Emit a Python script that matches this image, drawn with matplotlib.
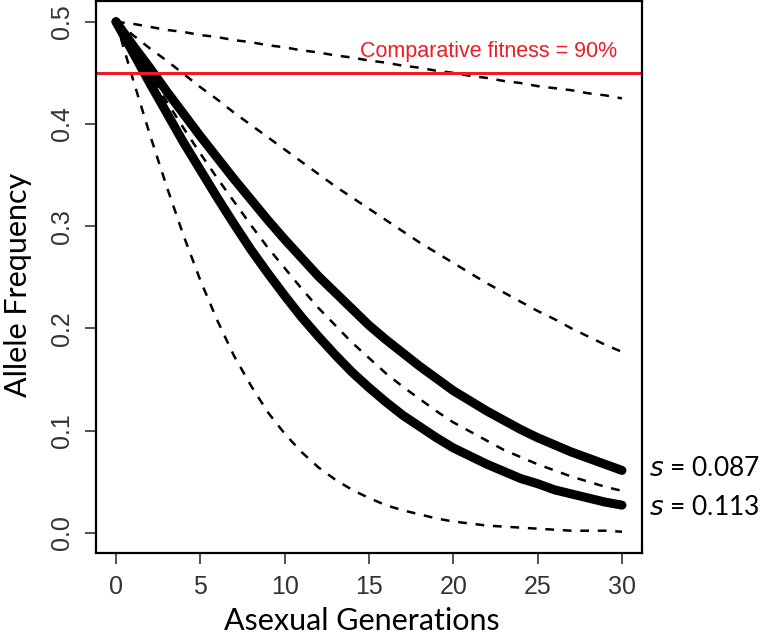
import matplotlib
matplotlib.use("Agg")
import matplotlib.pyplot as plt

# generations 0..30
gens = list(range(31))

# dashed reference curves
dash_a = [0.500, 0.498, 0.495, 0.492, 0.490, 0.487, 0.485, 0.482, 0.480, 0.477,
          0.475, 0.472, 0.470, 0.467, 0.465, 0.462, 0.460, 0.457, 0.455, 0.452,
          0.450, 0.447, 0.445, 0.442, 0.440, 0.437, 0.435, 0.433, 0.430, 0.428, 0.425]
dash_b = [0.500, 0.487, 0.474, 0.462, 0.449, 0.436, 0.424, 0.411, 0.399, 0.387,
          0.375, 0.363, 0.351, 0.339, 0.328, 0.317, 0.306, 0.295, 0.284, 0.274,
          0.264, 0.254, 0.244, 0.235, 0.226, 0.217, 0.209, 0.200, 0.192, 0.184, 0.177]
dash_c = [0.500, 0.474, 0.448, 0.422, 0.396, 0.371, 0.347, 0.324, 0.301, 0.279,
          0.259, 0.239, 0.220, 0.203, 0.186, 0.171, 0.156, 0.143, 0.131, 0.119,
          0.108, 0.099, 0.090, 0.081, 0.074, 0.067, 0.061, 0.055, 0.050, 0.045, 0.041]
dash_d = [0.500, 0.444, 0.390, 0.339, 0.291, 0.247, 0.208, 0.173, 0.144, 0.118,
          0.097, 0.079, 0.064, 0.052, 0.042, 0.034, 0.027, 0.022, 0.018, 0.014,
          0.011, 0.009, 0.007, 0.006, 0.005, 0.004, 0.003, 0.002, 0.002, 0.002, 0.001]

# fitted curves (thick)
fit_087 = [0.500, 0.477, 0.455, 0.432, 0.410, 0.388, 0.367, 0.346, 0.326, 0.306,
           0.287, 0.269, 0.251, 0.235, 0.219, 0.203, 0.189, 0.176, 0.163, 0.151,
           0.139, 0.129, 0.119, 0.110, 0.101, 0.093, 0.086, 0.079, 0.073, 0.067, 0.061]
fit_113 = [0.500, 0.470, 0.440, 0.411, 0.382, 0.355, 0.328, 0.302, 0.277, 0.254,
           0.232, 0.211, 0.192, 0.174, 0.157, 0.142, 0.128, 0.115, 0.104, 0.093,
           0.083, 0.075, 0.067, 0.060, 0.053, 0.048, 0.042, 0.038, 0.034, 0.030, 0.027]

fitness_line = 0.45
xticks = [0, 5, 10, 15, 20, 25, 30]
yticks = [0.0, 0.1, 0.2, 0.3, 0.4, 0.5]

fig = plt.figure(figsize=(7.6, 6.44), dpi=100)
ax = fig.add_axes([0.126, 0.141, 0.719, 0.857])

for ys in [dash_a, dash_b, dash_c, dash_d]:
    ax.plot(gens, ys, color="black", lw=1.8, dashes=(3.5, 3.5))

for ys in [fit_087, fit_113]:
    ax.plot(gens, ys, color="black", lw=6.5, solid_capstyle="round",
            solid_joinstyle="round")

ax.axhline(fitness_line, color="#ee1c25", lw=2.2)
ax.text(29.7, 0.4655, "Comparative fitness = 90%", color="#ee1c25", fontsize=15.5,
        family="Liberation Sans", ha="right", va="baseline")

ax.set_xlim(-1.2, 31.2)
ax.set_ylim(-0.02, 0.52)
ax.set_xticks(xticks)
ax.set_xticklabels([str(t) for t in xticks])
ax.set_yticks(yticks)
ax.set_yticklabels(["%.1f" % t for t in yticks], rotation=90, va="center")
ax.tick_params(length=8, width=1.2, color="#333333", labelsize=18, pad=8,
               labelcolor="#333333")
for lbl in ax.get_xticklabels() + ax.get_yticklabels():
    lbl.set_family("Liberation Sans")
for sp in ax.spines.values():
    sp.set_linewidth(1.6)

ax.set_xlabel("Asexual Generations", family="Lato", fontsize=22)
ax.set_ylabel("Allele Frequency", family="Lato", fontsize=22)
ax.xaxis.set_label_coords(0.487, -0.097)
ax.yaxis.set_label_coords(-0.116, 0.487)

# right-hand labels for the fitted curves
ax.text(1.013, fit_087[-1] + 0.002, r"$\it{s}$ = 0.087", transform=ax.get_yaxis_transform(),
        fontsize=19, family="Lato", va="center", ha="left")
ax.text(1.013, fit_113[-1] - 0.002, r"$\it{s}$ = 0.113", transform=ax.get_yaxis_transform(),
        fontsize=19, family="Lato", va="center", ha="left")

fig.savefig("out.png", dpi=100)
